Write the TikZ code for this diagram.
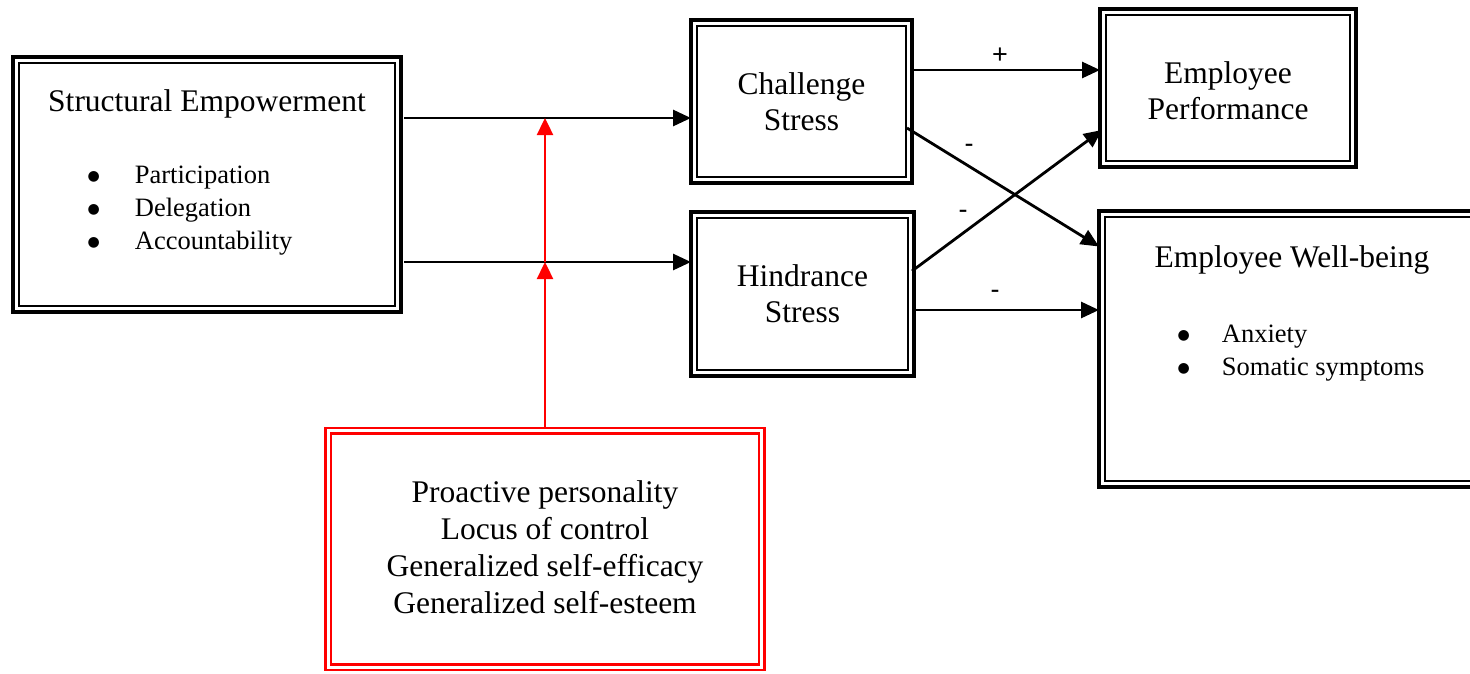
\documentclass[tikz,border=0pt]{standalone}
\usepackage{fontspec}
\setmainfont{Liberation Serif}
\newfontfamily\labelfont{Liberation Sans}
\newfontfamily\symfont{DejaVu Sans}
\newcommand\bigbul{\raisebox{3pt}{\symfont\fontsize{14}{14}\selectfont ●}}
\usetikzlibrary{arrows.meta,calc}
\begin{document}
\begin{tikzpicture}[x=1pt,y=-1pt,
  box/.style={draw, line width=3.2pt, outer sep=0pt, inner sep=0pt},
  redbox/.style={draw=red, line width=2.4pt, outer sep=0pt, inner sep=0pt},
  innerline/.style={line width=1.9pt},
  arr/.style={line width=2.8pt, -{Triangle[length=18pt,width=16pt]}},
  redarr/.style={draw=red, line width=2.4pt, -{Triangle[length=17pt,width=16pt]}, red},
  big/.style={font=\fontsize{31.5}{36}\selectfont, align=center, inner sep=0pt},
  bigred/.style={font=\fontsize{31.5}{37}\selectfont, align=center, inner sep=0pt},
  small/.style={font=\fontsize{26.5}{33}\selectfont, inner sep=0pt},
  sign/.style={font=\labelfont\fontsize{27}{27}\selectfont, inner sep=0pt}]
\useasboundingbox (0,0) rectangle (1470,673);
\clip (0,0) rectangle (1470,673);
\fill[white] (0,0) rectangle (1470,673);

% boxes
\node[box, minimum width=388pt, minimum height=255pt] (se) at (207,184.5) {};
\node[big] (setitle) at (207,104) {Structural Empowerment};
\node[small, anchor=west] (selist) at (87.5,210) {\begin{tabular}{@{}l@{\hspace{35pt}}l@{}}\bigbul & Participation\\ \bigbul & Delegation\\ \bigbul & Accountability\end{tabular}};

\node[box, big, minimum width=221pt, minimum height=163pt] (cs) at (801.5,101.5) {Challenge\\Stress};
\node[box, big, minimum width=223pt, minimum height=164pt] (hs) at (802.5,294) {Hindrance\\Stress};
\node[box, minimum width=256pt, minimum height=158pt] (ep) at (1228,88) {};
\node[big] (eptext) at (1228,90.5) {Employee\\Performance};

\node[box, minimum width=391pt, minimum height=276pt] (wb) at (1294.5,349) {};
\node[big] (wbtitle) at (1292,260) {Employee Well-being};
\node[small, anchor=west] (wblist) at (1177.5,352.5) {\begin{tabular}{@{}l@{\hspace{32pt}}l@{}}\bigbul & Anxiety\\ \bigbul & Somatic symptoms\end{tabular}};

\node[redbox, minimum width=439pt, minimum height=242pt] (mod) at (545,549) {};
\node[bigred] (modtext) at (545,547) {Proactive personality\\Locus of control\\Generalized self-efficacy\\Generalized self-esteem};

% inner lines of the double frames
\foreach \n in {se,cs,hs,ep,wb}
  \draw[innerline] ($(\n.north west)+(6,6)$) rectangle ($(\n.south east)+(-6,-6)$);
\draw[red, line width=2.2pt] ($(mod.north west)+(5.5,5.5)$) rectangle ($(mod.south east)+(-5.5,-5.5)$);

% connectors
\draw[arr] ($(se.east |- 0,118)+(3,0)$) -- (cs.west |- 0,118);
\draw[arr] ($(se.east |- 0,262)+(3,0)$) -- (hs.west |- 0,262);

\coordinate (j1) at (545,262);
\coordinate (j2) at (545,118);
\draw[redarr] (mod.north) -- (j1);
\draw[redarr] (j1) -- (j2);

\draw[arr] (cs.east |- 0,70) -- (ep.west |- 0,70);
\draw[arr] ($(cs.east |- 0,128)+(-5,0)$) -- (wb.west |- 0,246.5);
\draw[arr] ($(hs.east |- 0,271)+(-2,0)$) -- ($(ep.west |- 0,130)+(2,0)$);
\draw[arr] (hs.east |- 0,310) -- (wb.west |- 0,310);

% signs
\node[sign] (plus) at (1000,56) {+};
\node[sign] (m1) at (969,148) {-};
\node[sign] (m2) at (963,214) {-};
\node[sign] (m3) at (995,294) {-};
\end{tikzpicture}
\end{document}
